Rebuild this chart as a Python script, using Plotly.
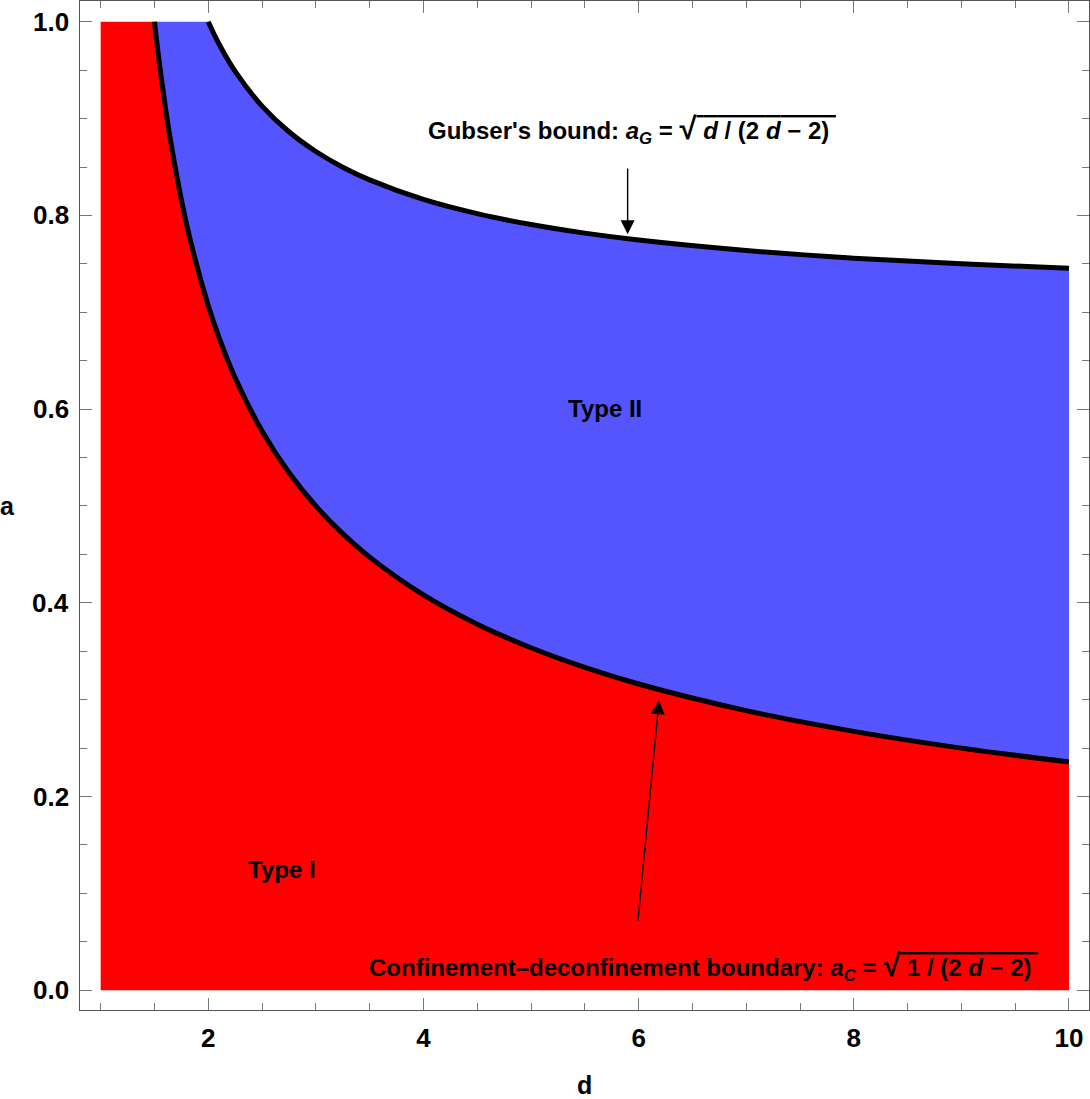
import plotly.graph_objects as go

# ---- data ----
d_conf = [1.5, 1.55, 1.6, 1.65, 1.75, 1.85, 2.0, 2.1, 2.25, 2.5, 2.75, 3.0, 3.25, 3.5,
          4.0, 4.5, 5.0, 5.5, 6.0, 7.0, 8.0, 9.0, 10.0]
a_conf = [1.0, 0.9535, 0.9129, 0.8771, 0.8165, 0.7670, 0.7071, 0.6742, 0.6325, 0.5774,
          0.5345, 0.5, 0.4714, 0.4472, 0.4082, 0.3780, 0.3536, 0.3333, 0.3162, 0.2887,
          0.2673, 0.25, 0.2357]
d_gub = [2.0, 2.1, 2.25, 2.5, 2.75, 3.0, 3.25, 3.5, 4.0, 4.5, 5.0, 5.5, 6.0, 7.0, 8.0, 9.0, 10.0]
a_gub = [1.0, 0.9770, 0.9487, 0.9129, 0.8864, 0.8660, 0.8498, 0.8367, 0.8165, 0.8018,
         0.7906, 0.7817, 0.7746, 0.7638, 0.7559, 0.75, 0.7454]
d_left, d_right = 1.0, 10.0
a_bottom, a_top = 0.0, 1.0

x_ticks = [2, 4, 6, 8, 10]
y_ticks = [0.0, 0.2, 0.4, 0.6, 0.8, 1.0]
y_ticktext = ["0.0", "0.2", "0.4", "0.6", "0.8", "1.0"]

RED = "#FF0000"
BLUE = "#5555FF"
FONT = "Liberation Sans"

fig = go.Figure()

# Type I region (red)
fig.add_trace(go.Scatter(
    x=[d_left, d_left] + d_conf + [d_right],
    y=[a_bottom, a_top] + a_conf + [a_bottom],
    fill="toself", fillcolor=RED, mode="lines", line=dict(width=0),
    hoverinfo="skip", showlegend=False))

# Type II region (blue)
fig.add_trace(go.Scatter(
    x=[d_conf[0]] + d_gub + d_conf[::-1],
    y=[a_top] + a_gub + a_conf[::-1],
    fill="toself", fillcolor=BLUE, mode="lines", line=dict(width=0),
    hoverinfo="skip", showlegend=False))

# boundary curves
fig.add_trace(go.Scatter(x=d_conf, y=a_conf, mode="lines",
                         line=dict(color="black", width=5, shape="spline", smoothing=1.0),
                         hoverinfo="skip", showlegend=False))
fig.add_trace(go.Scatter(x=d_gub, y=a_gub, mode="lines",
                         line=dict(color="black", width=5, shape="spline", smoothing=1.0),
                         hoverinfo="skip", showlegend=False))

lab = dict(family=FONT, size=24, color="black", weight="bold")
RAD = "<span style='font-size:31px'>√</span>"
OL = "<span style='text-decoration:overline;text-decoration-thickness:3px'>"

annotations = [
    dict(x=5.94, y=0.889, text="Gubser's bound: <i>a<sub>G</sub></i> = " + RAD + OL
         + " <i>d</i> / (2 <i>d</i> − 2) </span>"),
    dict(x=6.60, y=0.025, text="Confinement–deconfinement boundary: <i>a<sub>C</sub></i> = "
         + RAD + OL + " 1 / (2 <i>d</i> − 2) </span>"),
    dict(x=5.69, y=0.601, text="Type II"),
    dict(x=2.69, y=0.125, text="Type I"),
]
for a in annotations:
    a.update(xref="x", yref="y", showarrow=False, font=lab, xanchor="center", yanchor="middle")

tickfont = dict(family=FONT, size=26, color="black", weight="bold")

annotations += [
    # arrows
    dict(x=5.898, y=0.7805, ax=5.898, ay=0.850, xref="x", yref="y", axref="x", ayref="y",
         text="", showarrow=True, arrowhead=2, arrowsize=2, arrowwidth=1.4, arrowcolor="black",
         standoff=0),
    dict(x=6.19, y=0.2994, ax=5.993, ay=0.0705, xref="x", yref="y", axref="x", ayref="y",
         text="", showarrow=True, arrowhead=2, arrowsize=2, arrowwidth=1.4, arrowcolor="black",
         standoff=0),
    # axis labels
    dict(x=5.5, y=-0.0743, xref="x", yref="paper", showarrow=False, xanchor="center",
         yanchor="middle", font=dict(family=FONT, size=25, color="black", weight="bold"),
         text="d"),
    dict(x=-0.0723, y=0.5, xref="paper", yref="y", showarrow=False, xanchor="center",
         yanchor="middle", font=dict(family=FONT, size=25, color="black", weight="bold"),
         text="a"),
]
# y tick labels placed just left of the frame
for v, t in zip(y_ticks, y_ticktext):
    annotations.append(dict(x=-0.0085, y=v, xref="paper", yref="y", showarrow=False,
                            xanchor="right", yanchor="middle", font=tickfont, text=t))

axis_common = dict(showgrid=False, zeroline=False, showline=True, linecolor="#555555",
                   linewidth=1, mirror="allticks", ticks="inside", tickcolor="#777777",
                   tickwidth=1, ticklen=12, tickfont=tickfont)

fig.update_layout(
    width=1090, height=1099,
    margin=dict(l=80, r=1, t=1, b=89),
    plot_bgcolor="white", paper_bgcolor="white",
    xaxis=dict(range=[0.808, 10.186], tickvals=x_ticks,
               minor=dict(ticks="inside", ticklen=7, dtick=0.5, tick0=0, tickcolor="#777777"),
               ticklabelstandoff=5, **axis_common),
    yaxis=dict(range=[-0.0204, 1.0214], tickvals=y_ticks, showticklabels=False,
               minor=dict(ticks="inside", ticklen=7, dtick=0.05, tick0=0, tickcolor="#777777"),
               **axis_common),
    annotations=annotations,
)

fig.write_html("out.html", config={"displayModeBar": False},
               post_script="document.body.style.margin='0px';document.body.style.overflow='hidden';")
